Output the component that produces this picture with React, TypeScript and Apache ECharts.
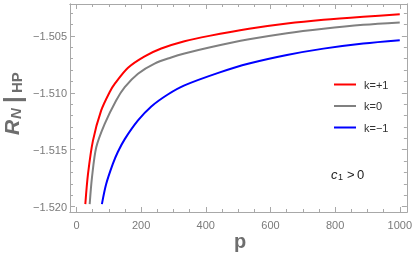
import React, { useEffect, useRef } from "react";
import * as echarts from "echarts";

// ---- data ----
const redP = [27.4, 35.7, 51.0, 76.5, 102.4, 118.7, 159.5, 210.9, 262.2, 334, 410.7, 533.7, 651, 764, 887, 1000];
const redR = [-1.51978, -1.51713, -1.5142, -1.51155, -1.50995, -1.5092, -1.5078, -1.5068, -1.50611, -1.50547, -1.505, -1.50438, -1.50392, -1.50359, -1.50332, -1.50311];

const grayP = [40.9, 48.0, 61.2, 87.0, 122.7, 149.4, 190.3, 241.6, 293, 334, 410.7, 533.7, 651, 764, 887, 1000];
const grayR = [-1.51978, -1.51743, -1.51479, -1.51275, -1.51067, -1.5095, -1.50832, -1.50743, -1.5069, -1.50655, -1.50602, -1.5053, -1.50476, -1.50437, -1.50403, -1.50382];

const blueP = [78.7, 91.9, 112.5, 127.9, 149.4, 190.3, 231.5, 282.5, 334, 441, 533.7, 651, 764, 887, 1000];
const blueR = [-1.51978, -1.51802, -1.51625, -1.5152, -1.51407, -1.51243, -1.5112, -1.51015, -1.50935, -1.50823, -1.50743, -1.50668, -1.50612, -1.50567, -1.50538];

const seriesNames = ["k=+1", "k=0", "k=\u22121"];

const xMajor = [0, 200, 400, 600, 800, 1000];
const xMinor = [50, 100, 150, 250, 300, 350, 450, 500, 550, 650, 700, 750, 850, 900, 950];
const yMajor = [-1.52, -1.515, -1.51, -1.505];
const yMinor = [-1.519, -1.518, -1.517, -1.516, -1.514, -1.513, -1.512, -1.511, -1.509, -1.508, -1.507, -1.506, -1.504, -1.503];

const X_MIN = -20;
const X_MAX = 1022;
const Y_MIN = -1.52047;
const Y_MAX = -1.5022;

const FRAME = "#a8a8a8";
const LABEL = "#7a7a7a";

function zip(a: number[], b: number[]) {
  return a.map((v, i) => [v, b[i]]);
}

function xAxisDef(position: "bottom" | "top", values: number[], len: number, labels: boolean) {
  return {
    type: "value",
    position,
    min: X_MIN,
    max: X_MAX,
    splitLine: { show: false },
    axisLine: { show: true, onZero: false, lineStyle: { color: FRAME, width: 1 } },
    axisTick: { show: true, inside: true, length: len, customValues: values, lineStyle: { color: FRAME } },
    axisLabel: labels
      ? {
          show: true,
          customValues: values,
          margin: 7,
          color: LABEL,
          fontSize: 11,
          fontFamily: "Liberation Sans",
          formatter: (v: number) => String(Math.round(v)),
        }
      : { show: false },
  };
}

function yAxisDef(position: "left" | "right", values: number[], len: number, labels: boolean) {
  return {
    type: "value",
    position,
    min: Y_MIN,
    max: Y_MAX,
    splitLine: { show: false },
    axisLine: { show: true, onZero: false, lineStyle: { color: FRAME, width: 1 } },
    axisTick: { show: true, inside: true, length: len, customValues: values, lineStyle: { color: FRAME } },
    axisLabel: labels
      ? {
          show: true,
          customValues: values,
          margin: 3,
          color: LABEL,
          fontSize: 11,
          fontFamily: "Liberation Sans",
          formatter: (v: number) => v.toFixed(3).replace("-", "\u2212"),
        }
      : { show: false },
  };
}

export default function App() {
  const ref = useRef<HTMLDivElement>(null);
  useEffect(() => {
    if (!ref.current) return;
    const chart = echarts.init(ref.current, null, { renderer: "svg" });
    const labelFont = "Liberation Sans";
    chart.setOption({
      animation: false,
      grid: { left: 70, right: 6, top: 4, bottom: 47, containLabel: false },
      xAxis: [
        xAxisDef("bottom", xMajor, 5, true),
        xAxisDef("bottom", xMinor, 3, false),
        xAxisDef("top", xMajor, 5, false),
        xAxisDef("top", xMinor, 3, false),
      ],
      yAxis: [
        yAxisDef("left", yMajor, 5, true),
        yAxisDef("left", yMinor, 3, false),
        yAxisDef("right", yMajor, 5, false),
        yAxisDef("right", yMinor, 3, false),
      ],
      legend: {
        orient: "vertical",
        left: 329,
        top: 74,
        itemWidth: 22,
        itemHeight: 2,
        itemGap: 10.5,
        icon: "rect",
        textStyle: { color: "#333", fontSize: 11, fontFamily: labelFont, padding: [0, 0, 0, 3] },
        data: seriesNames,
      },
      series: [
        { name: seriesNames[0], type: "line", data: zip(redP, redR), color: "#ff0000" },
        { name: seriesNames[1], type: "line", data: zip(grayP, grayR), color: "#808080" },
        { name: seriesNames[2], type: "line", data: zip(blueP, blueR), color: "#0000ff" },
      ].map((s) => ({
        ...s,
        xAxisIndex: 0,
        yAxisIndex: 0,
        smooth: 0.3,
        showSymbol: false,
        symbol: "none",
        lineStyle: { width: 2, color: s.color },
        itemStyle: { color: s.color },
      })),
      graphic: [
        {
          type: "group",
          x: 11,
          y: 135,
          rotation: Math.PI / 2,
          children: [
            { type: "text", x: 0, y: 0, style: { text: "R", font: `italic bold 21px ${labelFont}`, fill: "#6e6e6e", textAlign: "left", textVerticalAlign: "middle" } },
            { type: "text", x: 16, y: 4, style: { text: "N", font: `italic bold 15px ${labelFont}`, fill: "#6e6e6e", textAlign: "left", textVerticalAlign: "middle" } },
            { type: "text", x: 32, y: 1, style: { text: "|", font: `bold 24px ${labelFont}`, fill: "#6e6e6e", textAlign: "left", textVerticalAlign: "middle" } },
            { type: "text", x: 42, y: 5, style: { text: "HP", font: `bold 15px ${labelFont}`, fill: "#6e6e6e", textAlign: "left", textVerticalAlign: "middle" } },
          ],
        },
        {
          type: "text",
          x: 240,
          y: 241,
          style: { text: "p", font: `bold 20px ${labelFont}`, fill: "#6e6e6e", textAlign: "center", textVerticalAlign: "middle" },
        },
        {
          type: "group",
          x: 331,
          y: 174,
          children: [
            { type: "text", x: 0, y: 0, style: { text: "c", font: `italic 13px ${labelFont}`, fill: "#222", textAlign: "left", textVerticalAlign: "middle" } },
            { type: "text", x: 7, y: 3, style: { text: "1", font: `9px ${labelFont}`, fill: "#222", textAlign: "left", textVerticalAlign: "middle" } },
            { type: "text", x: 16, y: 0, style: { text: ">", font: `13px ${labelFont}`, fill: "#222", textAlign: "left", textVerticalAlign: "middle" } },
            { type: "text", x: 26, y: 0, style: { text: "0", font: `13px ${labelFont}`, fill: "#222", textAlign: "left", textVerticalAlign: "middle" } },
          ],
        },
      ],
    });
    return () => chart.dispose();
  }, []);
  return <div ref={ref} style={{ position: "fixed", left: 0, top: 0, width: 415, height: 259 }} />;
}
